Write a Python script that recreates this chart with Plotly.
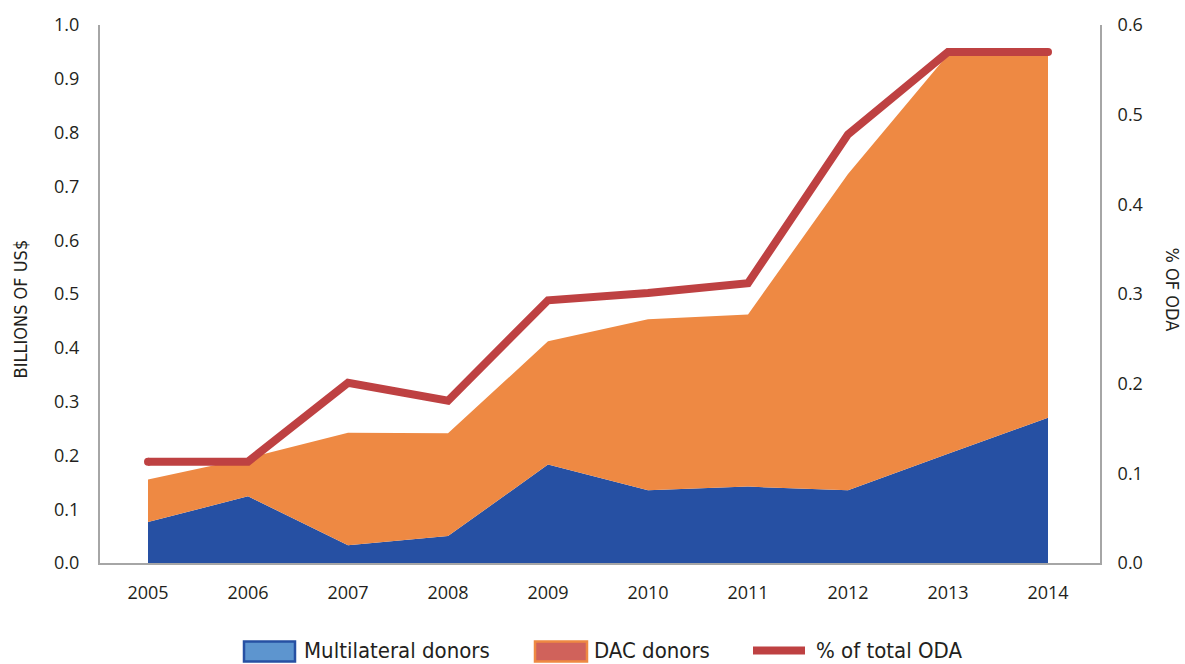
import plotly.graph_objects as go

years = ["2005", "2006", "2007", "2008", "2009", "2010", "2011", "2012", "2013", "2014"]
multilateral = [0.076, 0.124, 0.033, 0.050, 0.183, 0.135, 0.142, 0.135, 0.203, 0.270]
dac = [0.079, 0.071, 0.209, 0.191, 0.229, 0.318, 0.320, 0.588, 0.742, 0.673]
pct_oda = [0.113, 0.113, 0.201, 0.181, 0.293, 0.301, 0.312, 0.478, 0.570, 0.570]

legend_labels = ["Multilateral donors", "DAC donors", "% of total ODA"]

BLUE = "#2650A3"
ORANGE = "#EE8943"
RED = "#BE4142"
AXIS_GREY = "#A6A6A6"
TEXT = "#231F20"
FONT = "Open Sans"
NARROW = "DejaVu Sans Condensed, Roboto, sans-serif"

# plot area in pixels, used to place the hand-drawn legend
W, H = 1185, 664
L, R, T, B = 100, 85, 22, 101
PW, PH = W - L - R, H - T - B


def px(x):
    return (x - L) / PW


def py(y):
    return (H - B - y) / PH


fig = go.Figure()

# Stacked areas (billions of US$)
fig.add_trace(go.Scatter(
    x=years, y=multilateral, stackgroup="money", mode="lines",
    line=dict(width=0, color=BLUE), fillcolor=BLUE,
    name=legend_labels[0], showlegend=False,
))
fig.add_trace(go.Scatter(
    x=years, y=dac, stackgroup="money", mode="lines",
    line=dict(width=0, color=ORANGE), fillcolor=ORANGE,
    name=legend_labels[1], showlegend=False,
))

# Share of total ODA on the secondary axis
fig.add_trace(go.Scatter(
    x=years, y=pct_oda, yaxis="y2", mode="lines",
    line=dict(width=8, color=RED), name=legend_labels[2], showlegend=False,
))
# rounded line ends
fig.add_trace(go.Scatter(
    x=[years[0], years[-1]], y=[pct_oda[0], pct_oda[-1]], yaxis="y2", mode="markers",
    marker=dict(size=8, color=RED), showlegend=False, hoverinfo="skip",
))

# Legend drawn as shapes + text below the plot
shapes = [
    dict(type="rect", xref="paper", yref="paper",
         x0=px(244), x1=px(295), y0=py(662), y1=py(642),
         fillcolor="#5D95CF", line=dict(color=BLUE, width=2.5)),
    dict(type="rect", xref="paper", yref="paper",
         x0=px(535), x1=px(587), y0=py(662), y1=py(642),
         fillcolor="#D0625B", line=dict(color=ORANGE, width=2.5)),
    dict(type="line", xref="paper", yref="paper",
         x0=px(753), x1=px(805), y0=py(651), y1=py(651),
         line=dict(color=RED, width=8)),
]
legend_text = [
    dict(text=legend_labels[0], x=px(302), y=py(651)),
    dict(text=legend_labels[1], x=px(592), y=py(651)),
    dict(text=legend_labels[2], x=px(814), y=py(651)),
]
annotations = [
    dict(text=a["text"], xref="paper", yref="paper", x=a["x"], y=a["y"],
         xanchor="left", yanchor="middle", showarrow=False,
         font=dict(family=NARROW, size=22, color=TEXT))
    for a in legend_text
]
annotations += [
    dict(text="BILLIONS OF US$", textangle=-90, xref="paper", yref="paper",
         x=px(20), y=py(308), xanchor="center", yanchor="middle", showarrow=False,
         font=dict(family=NARROW, size=18, color=TEXT)),
    dict(text="% OF ODA", textangle=90, xref="paper", yref="paper",
         x=px(1172), y=py(288), xanchor="center", yanchor="middle", showarrow=False,
         font=dict(family=NARROW, size=18, color=TEXT)),
]

fig.update_layout(
    width=W, height=H,
    margin=dict(l=L, r=R, t=T, b=B),
    paper_bgcolor="white", plot_bgcolor="white",
    font=dict(family=FONT, size=18, color=TEXT),
    showlegend=False,
    xaxis=dict(
        type="category", range=[-0.48, 9.52],
        showline=True, linecolor=AXIS_GREY, linewidth=2,
        showgrid=False, ticks="", zeroline=False, ticklabelstandoff=12,
        tickfont=dict(family=FONT, size=18, color=TEXT),
    ),
    yaxis=dict(
        range=[0, 1.0], dtick=0.1, tickformat=".1f",
        showline=True, linecolor=AXIS_GREY, linewidth=2,
        showgrid=False, zeroline=False, ticks="", ticklabelstandoff=15,
        tickfont=dict(family=FONT, size=18, color=TEXT),
    ),
    yaxis2=dict(
        range=[0, 0.6], dtick=0.1, tickformat=".1f",
        overlaying="y", side="right",
        showline=True, linecolor=AXIS_GREY, linewidth=2,
        showgrid=False, zeroline=False, ticks="", ticklabelstandoff=12,
        tickfont=dict(family=FONT, size=18, color=TEXT),
    ),
    shapes=shapes,
    annotations=annotations,
)

fig.write_html("out.html")
